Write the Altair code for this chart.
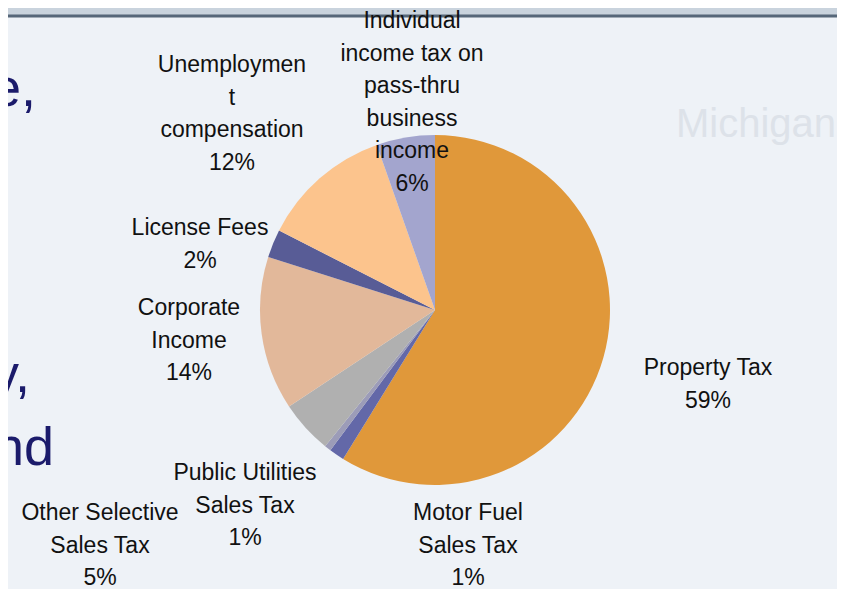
import altair as alt
import pandas as pd

# ---- data ----
categories = [
    "Property Tax",
    "Motor Fuel Sales Tax",
    "Public Utilities Sales Tax",
    "Other Selective Sales Tax",
    "Corporate Income",
    "License Fees",
    "Unemployment compensation",
    "Individual income tax on pass-thru business income",
]
shares = [58.8, 1.4, 0.6, 4.9, 14.2, 2.6, 12.1, 5.4]
pct_labels = ["59%", "1%", "1%", "5%", "14%", "2%", "12%", "6%"]
label_lines = [
    "Property Tax",
    "Motor Fuel\nSales Tax",
    "Public Utilities\nSales Tax",
    "Other Selective\nSales Tax",
    "Corporate\nIncome",
    "License Fees",
    "Unemploymen\nt\ncompensation",
    "Individual\nincome tax on\npass-thru\nbusiness\nincome",
]
colors = ["#E0983A", "#6368A8", "#9C9CB8", "#B0B0B0", "#E2B89A", "#585C96", "#FCC48D", "#A3A5CE"]

# ---- layout (chart pixel coords = page coords - 8) ----
OFF = 8
center = (435 - OFF, 310 - OFF)
radius = 175
label_x = [708, 468, 245, 100, 189, 200, 232, 412]
label_y = [375, 520, 480, 520, 315, 235, 72, 28]

df = pd.DataFrame({
    "idx": list(range(len(categories))),
    "category": categories,
    "share": shares,
})
lab = pd.DataFrame({
    "category": categories,
    "text": [l + "\n" + p for l, p in zip(label_lines, pct_labels)],
    "lx": [x - OFF for x in label_x],
    "ly": [y - OFF for y in label_y],
})

W, H = 829, 581

# background decorations
band = alt.Chart(pd.DataFrame({"a": [0]})).mark_rect(color="#C9D3DD").encode(
    x=alt.value(0), x2=alt.value(W), y=alt.value(0), y2=alt.value(7)
)
line = alt.Chart(pd.DataFrame({"a": [0]})).mark_rule(color="#566779", strokeWidth=3).encode(
    x=alt.value(0), x2=alt.value(W), y=alt.value(8)
)

bg_words = ["e,", "y,", "nd"]
bg_df = pd.DataFrame({"w": bg_words, "bx": [36 - OFF, 30 - OFF, 54 - OFF], "by": [106 - OFF, 392 - OFF, 465 - OFF]})
bg_text = alt.Chart(bg_df).mark_text(
    align="right", baseline="alphabetic", fontSize=54, font="Liberation Sans", color="#1B1B6B"
).encode(x=alt.X("bx:Q", scale=None), y=alt.Y("by:Q", scale=None), text="w:N")

mich = alt.Chart(pd.DataFrame({"w": ["Michigan"]})).mark_text(
    align="left", baseline="alphabetic", fontSize=40, font="Liberation Sans",
    color="#DDE2E9"
).encode(x=alt.value(676 - OFF), y=alt.value(137 - OFF), text="w:N")

pie = alt.Chart(df).mark_arc(outerRadius=radius, strokeWidth=0).encode(
    theta=alt.Theta("share:Q", stack=True),
    order=alt.Order("idx:Q"),
    color=alt.Color("category:N", scale=alt.Scale(domain=categories, range=colors), legend=None),
    x=alt.value(center[0]),
    y=alt.value(center[1]),
)

labels = alt.Chart(lab).mark_text(
    align="center", baseline="alphabetic", fontSize=23, font="Liberation Sans",
    color="#111111", lineBreak="\n", lineHeight=32.5
).encode(
    x=alt.X("lx:Q", scale=None),
    y=alt.Y("ly:Q", scale=None),
    text="text:N",
)

chart = alt.layer(band, line, bg_text, mich, pie, labels).properties(
    width=W, height=H, autosize=alt.AutoSizeParams(type="none"), padding=0,
    background="#EEF2F7",
).configure_view(stroke=None)

chart.save("out.html", embed_options={"renderer": "svg", "actions": False})
